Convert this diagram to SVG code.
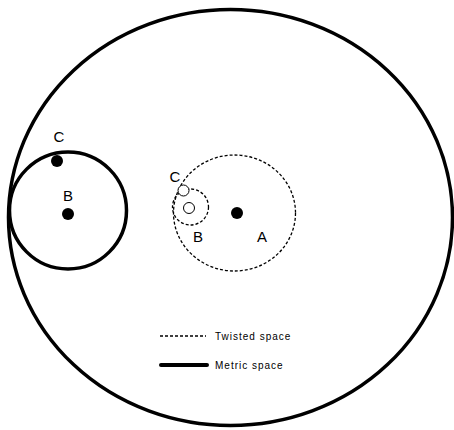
<svg xmlns="http://www.w3.org/2000/svg" width="454" height="430" viewBox="0 0 454 430">
<style>
.solid{fill:none;stroke:#000;stroke-width:3.5}
.dash{fill:none;stroke:#000;stroke-width:1.3;stroke-dasharray:3,2}
.dot{fill:#000}
.open{fill:#fff;stroke:#000;stroke-width:1}
.lbl{font-family:"Liberation Sans",Arial,sans-serif;font-size:15px;fill:#000;text-anchor:middle}
.leg{font-family:"Liberation Sans",Arial,sans-serif;font-size:10px;fill:#000}
</style>
<rect width="454" height="430" fill="#fff"/>
<g id="metric-space-outer">
<ellipse class="solid" cx="230.5" cy="217.5" rx="222" ry="208"/>
</g>
<g id="metric-ball-B">
<circle class="solid" cx="68" cy="210.5" r="58.5"/>
</g>
<g id="point-B-metric">
<circle class="dot" cx="68" cy="214" r="6"/>
<text class="lbl" x="68" y="201">B</text>
</g>
<g id="point-C-metric">
<circle class="dot" cx="57" cy="161" r="6"/>
<text class="lbl" x="59" y="142">C</text>
</g>
<g id="twisted-ball-A">
<ellipse class="dash" cx="234.5" cy="213" rx="61" ry="58"/>
</g>
<g id="point-A">
<circle class="dot" cx="237" cy="213" r="6"/>
<text class="lbl" x="262" y="242">A</text>
</g>
<g id="twisted-ball-B">
<circle class="dash" cx="190.5" cy="207" r="18"/>
</g>
<g id="point-B-twisted">
<circle class="open" cx="189" cy="208" r="5.5"/>
<text class="lbl" x="198" y="242">B</text>
</g>
<g id="point-C-twisted">
<circle class="open" cx="183.5" cy="190.5" r="5.5"/>
<text class="lbl" x="175" y="182">C</text>
</g>
<g id="legend">
<line class="dash" x1="160" y1="336" x2="206" y2="336" stroke-width="1.5"/>
<text class="leg" x="215" y="340" letter-spacing="1">Twisted space</text>
<line x1="161" y1="365" x2="207" y2="365" stroke="#000" stroke-width="4" stroke-linecap="round"/>
<text class="leg" x="215" y="369" letter-spacing="1">Metric space</text>
</g>
</svg>
